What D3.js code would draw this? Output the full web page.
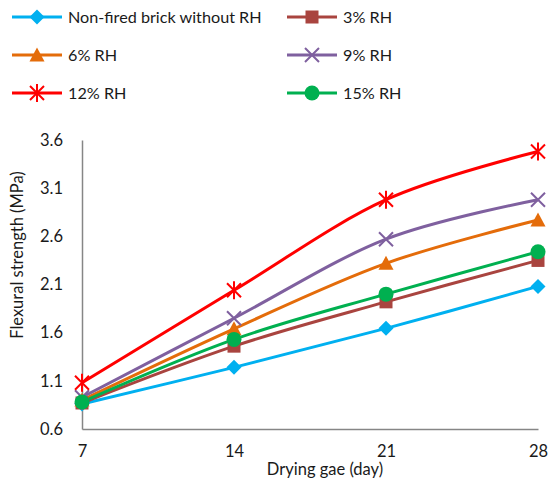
<!DOCTYPE html>
<html>
<head>
<meta charset="utf-8">
<script src="https://cdn.jsdelivr.net/npm/d3@7"></script>
<style>
  html, body { margin: 0; padding: 0; background: #fff; }
  svg { display: block; font-family: Lato, "Open Sans", sans-serif; }
</style>
</head>
<body>
<svg id="chart" width="549" height="479"></svg>
<script>
// Drying age (days)
const days = [7, 14, 21, 28];
const yTicks = [0.6, 1.1, 1.6, 2.1, 2.6, 3.1, 3.6];

// Flexural strength (MPa) per mix
const seriesNames = ["Non-fired brick without RH", "3% RH", "6% RH", "9% RH", "12% RH", "15% RH"];
const noRH   = [0.86, 1.24, 1.645, 2.08];
const rh3    = [0.87, 1.46, 1.92, 2.35];
const rh6    = [0.90, 1.64, 2.32, 2.77];
const rh9    = [0.93, 1.75, 2.57, 2.98];
const rh12   = [1.08, 2.04, 2.98, 3.48];
const rh15   = [0.88, 1.53, 2.00, 2.44];

const seriesValues = [noRH, rh3, rh6, rh9, rh12, rh15];
const colors  = ["#00B0F0", "#A9443F", "#E46C0A", "#7F609F", "#FF0000", "#00B050"];
const markers = ["diamond", "square", "triangle", "x", "asterisk", "circle"];

const svg = d3.select("#chart");
const margin = { left: 82, right: 11, top: 140, bottom: 50 };
const W = 549, H = 479;
const textColor = "#1a1a1a";

const x = d3.scaleLinear().domain([7, 28]).range([margin.left, W - margin.right]);
const y = d3.scaleLinear().domain([0.6, 3.6]).range([H - margin.bottom, margin.top]);

// Axes
const axisColor = "#868686";
const xAxis = svg.append("g")
  .attr("transform", `translate(0,${y(0.6)})`)
  .call(d3.axisBottom(x).tickValues(days).tickSize(0).tickPadding(16));
const yAxis = svg.append("g")
  .attr("transform", `translate(${x(7)},0)`)
  .call(d3.axisLeft(y).tickValues(yTicks).tickSize(0).tickPadding(19).tickFormat(d3.format(".1f")));
[xAxis, yAxis].forEach(g => {
  g.select(".domain").attr("stroke", axisColor).attr("stroke-width", 1.5);
  g.selectAll("text").attr("font-size", 16.5).attr("fill", textColor)
    .attr("font-family", "Lato, 'Open Sans', sans-serif");
});

// Axis titles
svg.append("text")
  .attr("x", 325).attr("y", 475)
  .attr("text-anchor", "middle").attr("font-size", 16.5).attr("fill", textColor)
  .text("Drying gae (day)");
svg.append("text")
  .attr("transform", `translate(23,255) rotate(-90)`)
  .attr("text-anchor", "middle").attr("font-size", 16.5).attr("fill", textColor)
  .text("Flexural strength (MPa)");

// Marker drawing
function drawMarker(g, type, color) {
  switch (type) {
    case "diamond":
      g.append("path").attr("d", "M0,-7.5L7.5,0L0,7.5L-7.5,0Z").attr("fill", color);
      break;
    case "square":
      g.append("rect").attr("x", -6.5).attr("y", -6.5).attr("width", 13).attr("height", 13).attr("fill", color);
      break;
    case "triangle":
      g.append("path").attr("d", "M0,-7.5L7.5,6.5L-7.5,6.5Z").attr("fill", color);
      break;
    case "x":
      g.append("path").attr("d", "M-7,-7L7,7M-7,7L7,-7").attr("stroke", color).attr("stroke-width", 2).attr("fill", "none");
      break;
    case "asterisk":
      g.append("path").attr("d", "M-7,-7L7,7M-7,7L7,-7M0,-9L0,9").attr("stroke", color).attr("stroke-width", 2).attr("fill", "none");
      break;
    case "circle":
      g.append("circle").attr("r", 7.5).attr("fill", color);
      break;
  }
}

// Series lines (smoothed) and markers
const line = d3.line()
  .x((d, i) => x(days[i]))
  .y(d => y(d))
  .curve(d3.curveCatmullRom.alpha(0));

seriesValues.forEach((vals, s) => {
  svg.append("path")
    .datum(vals)
    .attr("d", line)
    .attr("fill", "none")
    .attr("stroke", colors[s])
    .attr("stroke-width", 3)
    .attr("stroke-linejoin", "round");
});
seriesValues.forEach((vals, s) => {
  vals.forEach((v, i) => {
    const g = svg.append("g").attr("transform", `translate(${x(days[i])},${y(v)})`);
    drawMarker(g, markers[s], colors[s]);
  });
});

// Legend
const legendCols = [12, 287];
const legendRows = [17, 55, 93];
seriesNames.forEach((name, s) => {
  const lx = legendCols[s % 2], ly = legendRows[Math.floor(s / 2)];
  const g = svg.append("g").attr("transform", `translate(${lx},${ly})`);
  g.append("line").attr("x1", 0).attr("x2", 50).attr("y1", 0).attr("y2", 0)
    .attr("stroke", colors[s]).attr("stroke-width", 3);
  drawMarker(g.append("g").attr("transform", "translate(25,0)"), markers[s], colors[s]);
  g.append("text").attr("x", 56).attr("y", 0).attr("dy", "0.35em")
    .attr("font-size", 16.2).attr("fill", textColor).text(name);
});
</script>
</body>
</html>
